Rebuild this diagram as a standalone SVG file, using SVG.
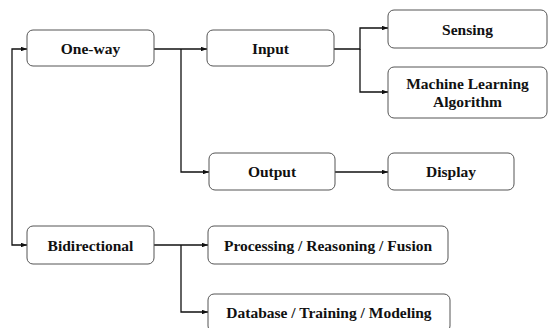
<svg xmlns="http://www.w3.org/2000/svg" width="549" height="328" viewBox="0 0 549 328">
  <style>
    .box { fill: #ffffff; stroke: #555555; stroke-width: 1; }
    .label { font-family: 'Liberation Serif', 'DejaVu Serif', 'Times New Roman', Times, serif; font-weight: 700; font-size: 15.5px; fill: #111111; text-anchor: middle; }
    .wire { fill: none; stroke: #111111; stroke-width: 1.3; }
  </style>
  <defs>
    <marker id="arrow" viewBox="0 0 8 6" refX="8" refY="3" markerWidth="6" markerHeight="4.5" markerUnits="userSpaceOnUse" orient="auto">
      <path d="M0,0 L8,3 L0,6 Z" fill="#111111"/>
    </marker>
  </defs>
  <rect width="549" height="328" fill="#ffffff"/>

  <g id="connectors">
    <path class="wire" d="M12,147 V49 H27" marker-end="url(#arrow)"/>
    <path class="wire" d="M12,147 V245 H27" marker-end="url(#arrow)"/>
    <path class="wire" d="M154,49 H207" marker-end="url(#arrow)"/>
    <path class="wire" d="M181,49 V172 H209" marker-end="url(#arrow)"/>
    <path class="wire" d="M334,49 H360 V28 H388" marker-end="url(#arrow)"/>
    <path class="wire" d="M360,49 V92 H388" marker-end="url(#arrow)"/>
    <path class="wire" d="M335,172 H388" marker-end="url(#arrow)"/>
    <path class="wire" d="M154,245 H208" marker-end="url(#arrow)"/>
    <path class="wire" d="M181,245 V312 H208" marker-end="url(#arrow)"/>
  </g>

  <g id="one-way">
    <rect class="box" x="27" y="30" width="127" height="36" rx="6"/>
    <text class="label" font-family="Liberation Serif, serif" x="90.5" y="53.5">One-way</text>
  </g>
  <g id="input">
    <rect class="box" x="207" y="30" width="127" height="36" rx="6"/>
    <text class="label" font-family="Liberation Serif, serif" x="270.5" y="53.5">Input</text>
  </g>
  <g id="sensing">
    <rect class="box" x="388" y="10" width="159" height="38" rx="6"/>
    <text class="label" font-family="Liberation Serif, serif" x="467.5" y="34.5">Sensing</text>
  </g>
  <g id="ml-algorithm">
    <rect class="box" x="388" y="67" width="159" height="51" rx="6"/>
    <text class="label" font-family="Liberation Serif, serif" x="467.5" y="88.5">Machine Learning</text>
    <text class="label" font-family="Liberation Serif, serif" x="467.5" y="106.5">Algorithm</text>
  </g>
  <g id="output">
    <rect class="box" x="209" y="153" width="126" height="37" rx="6"/>
    <text class="label" font-family="Liberation Serif, serif" x="272" y="177">Output</text>
  </g>
  <g id="display">
    <rect class="box" x="388" y="153" width="126" height="37" rx="6"/>
    <text class="label" font-family="Liberation Serif, serif" x="451" y="177">Display</text>
  </g>
  <g id="bidirectional">
    <rect class="box" x="27" y="226" width="127" height="38" rx="6"/>
    <text class="label" font-family="Liberation Serif, serif" x="90.5" y="250.5">Bidirectional</text>
  </g>
  <g id="processing">
    <rect class="box" x="208" y="226" width="240" height="38" rx="6"/>
    <text class="label" font-family="Liberation Serif, serif" x="328" y="250.5">Processing / Reasoning / Fusion</text>
  </g>
  <g id="database">
    <rect class="box" x="208" y="294" width="242" height="38" rx="6"/>
    <text class="label" font-family="Liberation Serif, serif" x="329" y="317.5">Database / Training / Modeling</text>
  </g>
</svg>
